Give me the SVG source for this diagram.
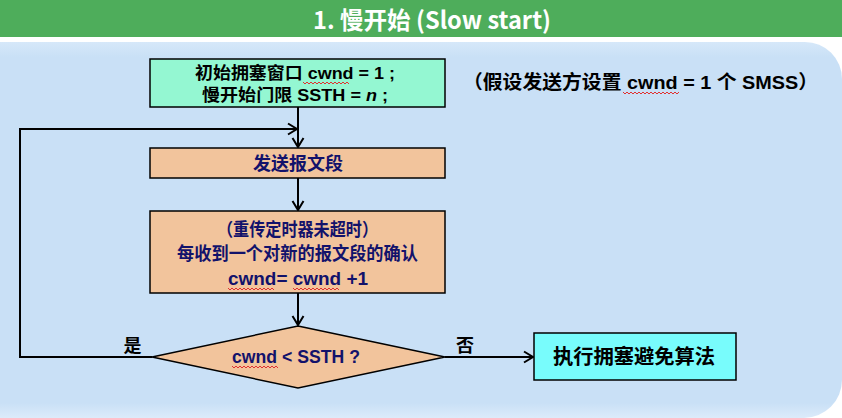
<svg xmlns="http://www.w3.org/2000/svg" width="842" height="418" viewBox="0 0 842 418">
<style>
  text { font-family: "Liberation Sans", "Noto Sans CJK SC", sans-serif; font-weight: bold; }
  .cjk { font-family: "Noto Sans CJK SC", "Liberation Sans", sans-serif; }
  .box { stroke: #000; stroke-width: 1.5; }
  .navy { fill: #12126B; }
  .blk { fill: #000; }
  .conn { fill: none; stroke: #000; stroke-width: 2; }
  .sq { fill: none; stroke: #E03030; stroke-width: 1; }
</style>
<defs>
  <marker id="arr" markerUnits="userSpaceOnUse" markerWidth="14" markerHeight="14" viewBox="0 0 14 14" refX="11" refY="7" orient="auto">
    <path d="M2,1.5 L11,7 L2,12.5" fill="none" stroke="#000" stroke-width="2"/>
  </marker>
  <linearGradient id="pg" x1="0" y1="0" x2="0" y2="1">
    <stop offset="0" stop-color="#D6E8F9"/>
    <stop offset="0.04" stop-color="#C9E0F6"/>
    <stop offset="0.96" stop-color="#C9E0F6"/>
    <stop offset="1" stop-color="#DCEBFA"/>
  </linearGradient>
</defs>

<!-- title bar -->
<rect x="0" y="0" width="842" height="37" fill="#4EAD5B"/>
<text x="432" y="29" text-anchor="middle" font-size="24" fill="#fff" class="cjk" textLength="238" lengthAdjust="spacingAndGlyphs">1. 慢开始 (Slow start)</text>

<!-- panel -->
<path d="M0,42 H805 A37,37 0 0 1 842,79 V380 A38,38 0 0 1 804,418 H0 Z" fill="url(#pg)"/>

<g id="connectors">
  <path class="conn" d="M298,107 V147" marker-end="url(#arr)"/>
  <path class="conn" d="M298,178 V210" marker-end="url(#arr)"/>
  <path class="conn" d="M298,293 V325" marker-end="url(#arr)"/>
  <path class="conn" d="M152,357 H20 V129 H297" marker-end="url(#arr)"/>
  <path class="conn" d="M445,357 H533" marker-end="url(#arr)"/>
  <text x="132.5" y="352" text-anchor="middle" font-size="18" class="blk cjk">是</text>
  <text x="465" y="352" text-anchor="middle" font-size="18" class="blk cjk">否</text>
</g>

<g id="init">
  <rect class="box" x="150" y="59" width="295" height="48" fill="#94F7D2"/>
  <text x="295" y="79" text-anchor="middle" font-size="17" class="blk" textLength="200" lengthAdjust="spacingAndGlyphs">初始拥塞窗口 cwnd = 1 ;</text>
  <text x="295" y="101" text-anchor="middle" font-size="17" class="blk" textLength="186" lengthAdjust="spacingAndGlyphs">慢开始门限 SSTH  =  <tspan font-style="italic">n</tspan> ;</text>
</g>

<g id="note">
  <text x="640.5" y="89" text-anchor="middle" font-size="19" class="blk" textLength="355" lengthAdjust="spacingAndGlyphs">（假设发送方设置 cwnd = 1 个 SMSS）</text>
</g>

<g id="send">
  <rect class="box" x="150" y="148" width="295" height="30" fill="#F2C49C"/>
  <text x="298" y="170" text-anchor="middle" font-size="18" class="navy cjk">发送报文段</text>
</g>

<g id="ack">
  <rect class="box" x="150" y="211" width="295" height="82" fill="#F2C49C"/>
  <text x="297.5" y="236" text-anchor="middle" font-size="18" class="navy" textLength="161" lengthAdjust="spacingAndGlyphs">（重传定时器未超时）</text>
  <text x="297.5" y="260" text-anchor="middle" font-size="18" class="navy" textLength="241" lengthAdjust="spacingAndGlyphs">每收到一个对新的报文段的确认</text>
  <text x="298" y="285" text-anchor="middle" font-size="18" class="navy" textLength="140" lengthAdjust="spacingAndGlyphs">cwnd= cwnd +1</text>
</g>

<g id="decision">
  <polygon class="box" points="298,326 445,357 298,388 152,357" fill="#F2C49C"/>
  <text x="296" y="363" text-anchor="middle" font-size="18" class="navy" textLength="128" lengthAdjust="spacingAndGlyphs">cwnd &lt; SSTH ?</text>
</g>

<g id="avoid">
  <rect class="box" x="534" y="333" width="202" height="47" fill="#78FCFC"/>
  <text x="634" y="364" text-anchor="middle" font-size="20" class="blk cjk" textLength="162" lengthAdjust="spacingAndGlyphs">执行拥塞避免算法</text>
</g>

<g id="spellcheck">
  <path class="sq" d="M303,82 l2,2 l2,-2 l2,2 l2,-2 l2,2 l2,-2 l2,2 l2,-2 l2,2 l2,-2 l2,2 l2,-2 l2,2 l2,-2 l2,2 l2,-2 l2,2 l2,-2 l2,2 l2,-2 l2,2 l2,-2 l2,2"/>
  <path class="sq" d="M623,92 l2,2 l2,-2 l2,2 l2,-2 l2,2 l2,-2 l2,2 l2,-2 l2,2 l2,-2 l2,2 l2,-2 l2,2 l2,-2 l2,2 l2,-2 l2,2 l2,-2 l2,2 l2,-2 l2,2 l2,-2 l2,2 l2,-2 l2,2 l2,-2 l2,2 l2,-2"/>
  <path class="sq" d="M228,288 l2,2 l2,-2 l2,2 l2,-2 l2,2 l2,-2 l2,2 l2,-2 l2,2 l2,-2 l2,2 l2,-2 l2,2 l2,-2 l2,2 l2,-2 l2,2 l2,-2 l2,2 l2,-2 l2,2 l2,-2 l2,2"/>
  <path class="sq" d="M293,288 l2,2 l2,-2 l2,2 l2,-2 l2,2 l2,-2 l2,2 l2,-2 l2,2 l2,-2 l2,2 l2,-2 l2,2 l2,-2 l2,2 l2,-2 l2,2 l2,-2 l2,2 l2,-2 l2,2 l2,-2 l2,2"/>
  <path class="sq" d="M232,366 l2,2 l2,-2 l2,2 l2,-2 l2,2 l2,-2 l2,2 l2,-2 l2,2 l2,-2 l2,2 l2,-2 l2,2 l2,-2 l2,2 l2,-2 l2,2 l2,-2 l2,2 l2,-2 l2,2 l2,-2 l2,2"/>
</g>
</svg>
